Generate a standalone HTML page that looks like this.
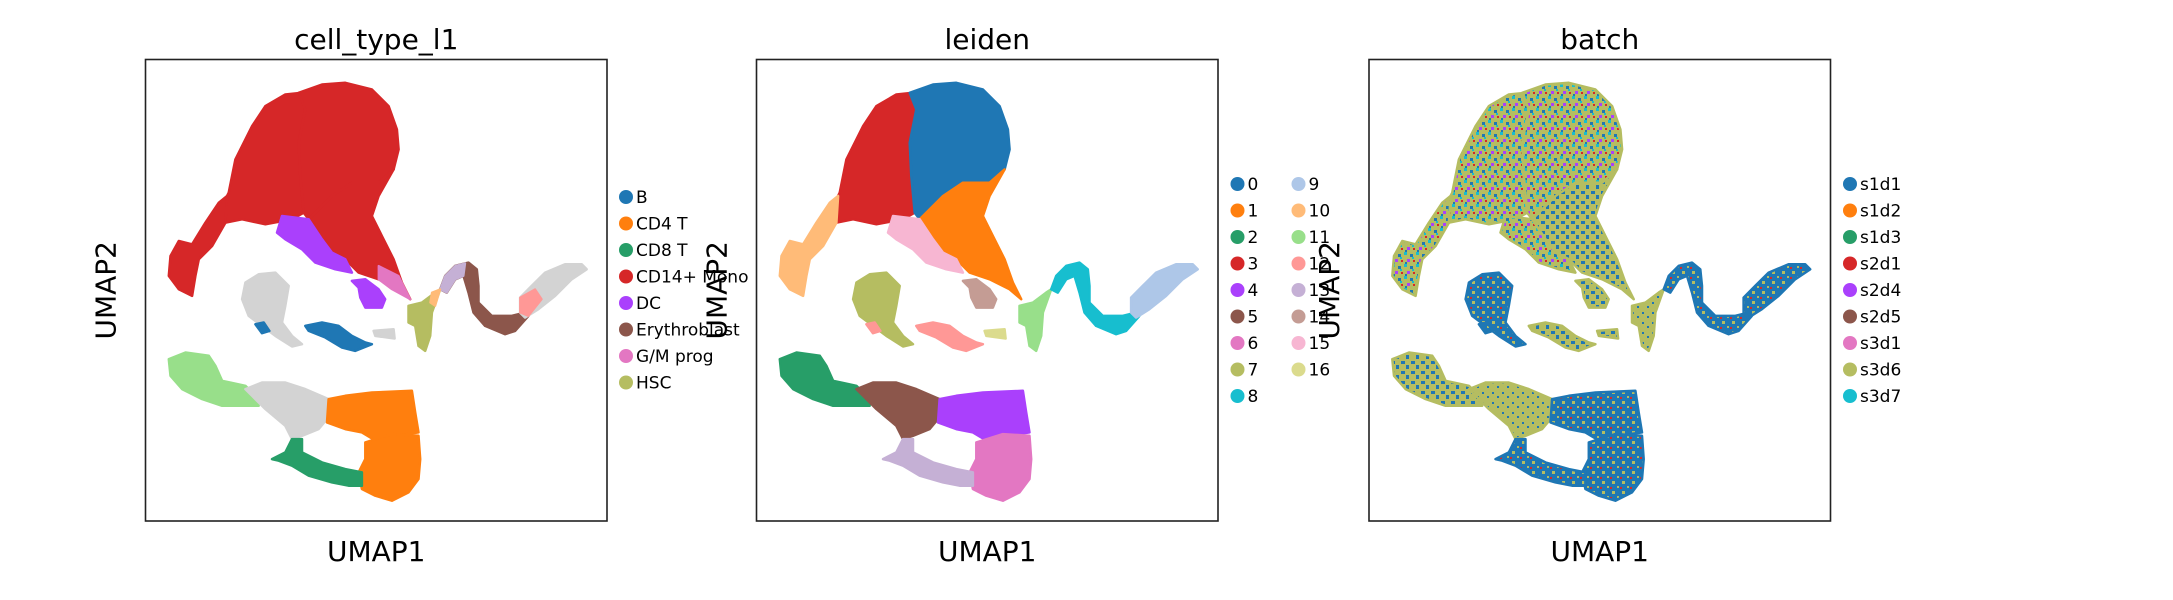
<!DOCTYPE html>
<html><head><meta charset="utf-8">
<style>
html,body{margin:0;padding:0;background:#fff;}
svg{display:block;font-family:"DejaVu Sans","Liberation Sans",sans-serif;}
</style></head>
<body>
<svg id="fig" width="2173" height="600" viewBox="0 0 2173 600" xmlns="http://www.w3.org/2000/svg">
<defs>
<pattern id="mixPat" width="12" height="12" patternUnits="userSpaceOnUse">
<rect width="12" height="12" fill="#b5bd61"/>
<rect x="0" y="0" width="3" height="3" fill="#17becf"/><rect x="6" y="2" width="3" height="3" fill="#1f77b4"/>
<rect x="3" y="7" width="3" height="3" fill="#aa40fc"/><rect x="9" y="8" width="2" height="2" fill="#d62728"/>
<rect x="8" y="5" width="2" height="2" fill="#17becf"/><rect x="1" y="10" width="2" height="2" fill="#1f77b4"/>
</pattern>
<pattern id="bluePat" width="10" height="10" patternUnits="userSpaceOnUse">
<rect width="10" height="10" fill="#1f77b4"/>
<rect x="2" y="1" width="3" height="3" fill="#b5bd61"/><rect x="7" y="6" width="2" height="2" fill="#b5bd61"/>
<rect x="0" y="7" width="2" height="2" fill="#d62728"/>
</pattern>
<pattern id="oliveBluePat" width="10" height="10" patternUnits="userSpaceOnUse">
<rect width="10" height="10" fill="#b5bd61"/>
<rect x="1" y="1" width="4" height="3" fill="#1f77b4"/><rect x="6" y="5" width="3" height="4" fill="#1f77b4"/>
</pattern>
<pattern id="olivePat" width="10" height="10" patternUnits="userSpaceOnUse">
<rect width="10" height="10" fill="#b5bd61"/>
<rect x="2" y="2" width="2" height="2" fill="#1f77b4"/><rect x="7" y="6" width="2" height="2" fill="#1f77b4"/>
</pattern>
</defs>
</svg>
<script>
// ---- data (UMAP units, 0..1386 on each axis, y downward as in image) ----
const clusterIds = ["3","0","1","15","10","7","12","12b","16","14","11","8","9","2","5","6","4","13"];
const clusterOutlines = [
 [[250,400],[270,300],[320,200],[360,140],[420,105],[470,100],[480,150],[460,250],[465,350],[475,460],[440,480],[360,495],[290,480],[240,490],[240,420]],
 [[460,100],[530,75],[600,70],[680,90],[730,140],[755,210],[760,270],[745,330],[700,370],[620,370],[580,400],[520,450],[490,480],[475,460],[465,350],[460,250],[480,150]],
 [[490,480],[560,410],[620,370],[700,370],[745,330],[700,410],[680,470],[710,530],[745,600],[770,670],[795,720],[760,690],[700,660],[640,640],[600,600],[560,580],[530,540]],
 [[410,470],[490,480],[530,540],[560,580],[600,600],[620,640],[570,630],[510,610],[470,570],[420,540],[395,520]],
 [[245,410],[240,490],[200,560],[160,600],[150,650],[140,710],[100,690],[70,650],[75,590],[100,545],[140,555],[180,490],[220,430]],
 [[300,670],[340,645],[390,640],[430,680],[420,740],[410,790],[440,830],[470,855],[440,862],[390,830],[350,800],[310,770],[290,720]],
 [[480,800],[530,790],[580,800],[620,830],[660,850],[680,855],[630,875],[590,865],[540,835],[490,815]],
 [[330,795],[355,790],[372,815],[350,822]],
 [[685,815],[745,810],[748,838],[690,830]],
 [[620,665],[660,660],[700,690],[720,720],[710,745],[660,745],[645,715],[640,685]],
 [[790,740],[830,730],[870,700],[885,690],[860,760],[855,830],[840,875],[820,860],[810,800],[790,790]],
 [[885,690],[900,650],[930,620],[970,610],[995,630],[1000,680],[1000,730],[1040,770],[1100,770],[1140,760],[1150,770],[1110,815],[1080,825],[1020,800],[985,760],[970,700],[955,650],[930,660],[905,700]],
 [[1125,715],[1160,680],[1200,640],[1260,615],[1310,615],[1325,630],[1280,660],[1230,710],[1180,750],[1140,775],[1125,760]],
 [[70,900],[120,880],[190,890],[210,920],[230,965],[300,980],[320,1000],[340,1040],[280,1040],[230,1040],[170,1020],[110,990],[75,950]],
 [[300,990],[350,970],[420,970],[480,990],[550,1020],[545,1080],[520,1110],[470,1130],[440,1140],[420,1100],[360,1050],[320,1010]],
 [[550,1020],[600,1010],[680,1000],[800,995],[810,1060],[820,1120],[750,1130],[700,1150],[650,1120],[600,1110],[545,1090]],
 [[660,1150],[740,1125],[820,1130],[825,1200],[820,1260],[790,1300],[740,1325],[690,1310],[650,1290],[640,1240],[660,1200]],
 [[440,1140],[470,1140],[470,1180],[530,1210],[600,1230],[650,1240],[650,1280],[610,1280],[560,1270],[490,1250],[440,1220],[400,1205],[380,1200],[420,1180]]
];
const leidenColorOf = ["#d62728","#1f77b4","#ff7f0e","#f7b6d2","#ffbb78","#b5bd61","#ff9896","#ff9896","#dbdb8d","#c49c94","#98df8a","#17becf","#aec7e8","#279e68","#8c564b","#aa40fc","#e377c2","#c5b0d5"];
const cellTypeColorOf = ["#d62728","#d62728","#d62728","#aa40fc","#d62728","#d3d3d3","#1f77b4","#1f77b4","#d3d3d3","#aa40fc","#b5bd61","#8c564b","#d3d3d3","#98df8a","#d3d3d3","#ff7f0e","#ff7f0e","#279e68"];
const batchFillOf = ["mixPat","mixPat","oliveBluePat","mixPat","mixPat","bluePat","oliveBluePat","bluePat","oliveBluePat","oliveBluePat","olivePat","bluePat","bluePat","oliveBluePat","olivePat","bluePat","bluePat","bluePat"];
// extra cell-type overlays in panel 1
const overlayOutlines = [
 [[700,620],[760,650],[795,720],[740,690],[700,660]],
 [[1125,715],[1170,690],[1190,720],[1150,770],[1125,760]],
 [[885,690],[900,650],[930,620],[960,612],[955,650],[930,660],[905,700]],
 [[860,700],[885,690],[870,740],[855,730]]
];
const overlayColors = ["#e377c2","#ff9896","#c5b0d5","#ffbb78"];

const cellTypeLabels = ["B","CD4 T","CD8 T","CD14+ Mono","DC","Erythroblast","G/M prog","HSC"];
const cellTypeColors = ["#1f77b4","#ff7f0e","#279e68","#d62728","#aa40fc","#8c564b","#e377c2","#b5bd61"];
const leidenLabels = ["0","1","2","3","4","5","6","7","8","9","10","11","12","13","14","15","16"];
const leidenColors = ["#1f77b4","#ff7f0e","#279e68","#d62728","#aa40fc","#8c564b","#e377c2","#b5bd61","#17becf","#aec7e8","#ffbb78","#98df8a","#ff9896","#c5b0d5","#c49c94","#f7b6d2","#dbdb8d"];
const batchLabels = ["s1d1","s1d2","s1d3","s2d1","s2d4","s2d5","s3d1","s3d6","s3d7"];
const batchColors = ["#1f77b4","#ff7f0e","#279e68","#d62728","#aa40fc","#8c564b","#e377c2","#b5bd61","#17becf"];

const NS="http://www.w3.org/2000/svg";
const svg=document.getElementById('fig');
function mk(tag,attrs,parent){const e=document.createElementNS(NS,tag);for(const k in attrs)e.setAttribute(k,attrs[k]);(parent||svg).appendChild(e);return e;}

const panels=[
 {title:"cell_type_l1",x0:145.5,name:"cell-type"},
 {title:"leiden",x0:756.5,name:"leiden"},
 {title:"batch",x0:1369,name:"batch"}
];
const boxW=461.5, boxY=59.5, boxH=461.5, dataMax=1386;

panels.forEach((p,pi)=>{
 const xs=v=>p.x0+v/dataMax*boxW;
 const ys=v=>boxY+v/dataMax*boxH;
 const g=mk('g',{});
 
 
 clusterOutlines.forEach((pts,i)=>{
  const d=pts.map(q=>xs(q[0]).toFixed(1)+','+ys(q[1]).toFixed(1)).join(' ');
  let fill;
  if(pi===0) fill=cellTypeColorOf[i]; else if(pi===1) fill=leidenColorOf[i]; else fill='url(#'+batchFillOf[i]+')';
  const stroke = pi===2 ? (batchFillOf[i]==='bluePat'?'#1f77b4':'#b5bd61') : fill;
  const poly=mk('polygon',{points:d,fill:fill,stroke:stroke,'stroke-width':2.5,'stroke-linejoin':'round'},g);
  
  
 });
 if(pi===0){
  overlayOutlines.forEach((pts,i)=>{
   const d=pts.map(q=>xs(q[0]).toFixed(1)+','+ys(q[1]).toFixed(1)).join(' ');
   const poly=mk('polygon',{points:d,fill:overlayColors[i],stroke:overlayColors[i],'stroke-width':2,'stroke-linejoin':'round'},g);
   
   
  });
 }
 const frame=mk('rect',{x:p.x0,y:boxY,width:boxW,height:boxH,fill:'none',stroke:'#222','stroke-width':1.6},g);
 
 
 const t=mk('text',{x:p.x0+boxW/2,y:49,'text-anchor':'middle','font-size':28,fill:'#000'},g);
 t.textContent=p.title;
 
 
 const xl=mk('text',{x:p.x0+boxW/2,y:561,'text-anchor':'middle','font-size':28,fill:'#000'},g);
 xl.textContent='UMAP1';
 
 
 const cx=p.x0-30, cy=boxY+boxH/2;
 const yl=mk('text',{x:cx,y:cy,'text-anchor':'middle','font-size':28,fill:'#000',transform:'rotate(-90 '+cx+' '+cy+')'},g);
 yl.textContent='UMAP2';
 
 
});

function legend(labels,colors,x,y0,perCol,colW,name){
 const g=mk('g',{});
 
 
 labels.forEach((lab,i)=>{
  const col=Math.floor(i/perCol), row=i%perCol;
  const mx=x+col*colW, my=y0+row*26.5;
  const c=mk('circle',{cx:mx,cy:my,r:7,fill:colors[i]},g);
  
  
  const t=mk('text',{x:mx+10,y:my+6,'font-size':17,fill:'#000'},g);
  t.textContent=lab;
  
  
 });
}
legend(cellTypeLabels,cellTypeColors,626,197,8,0,'cell-type-legend');
legend(leidenLabels,leidenColors,1237.5,184,9,61,'leiden-legend');
legend(batchLabels,batchColors,1850,184,9,0,'batch-legend');
</script>
</body></html>
